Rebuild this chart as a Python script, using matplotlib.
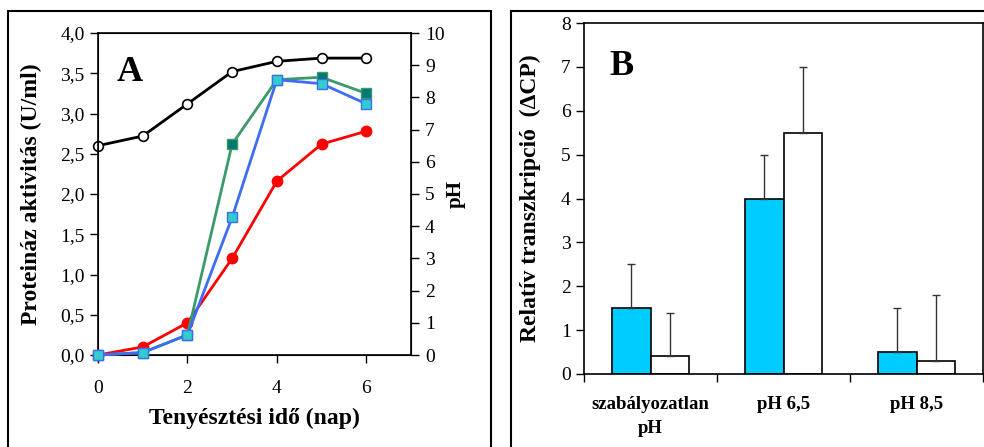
import numpy as np
import matplotlib.pyplot as plt
from matplotlib.patches import Rectangle

plt.rcParams['font.family'] = ['Liberation Serif', 'DejaVu Serif']

# panel A: protease activity (U/ml) and pH over culture time
days = [0, 1, 2, 3, 4, 5, 6]
act_green = [0.0, 0.03, 0.25, 2.62, 3.42, 3.45, 3.25]
act_blue = [0.0, 0.03, 0.25, 1.71, 3.42, 3.37, 3.12]
act_red = [0.0, 0.10, 0.40, 1.20, 2.16, 2.62, 2.78]
ph_vals = [6.5, 6.8, 7.8, 8.8, 9.12, 9.22, 9.22]

# panel B: relative transcription
cats = ['szabályozatlan\npH', 'pH 6,5', 'pH 8,5']
rel_cyan = [1.5, 4.0, 0.5]
rel_white = [0.4, 5.5, 0.3]
err_cyan = [1.0, 1.0, 1.0]
err_white = [1.0, 1.5, 1.5]

fig = plt.figure(figsize=(9.84, 4.47), dpi=100)

# frames round the two panels
fig.patches.append(Rectangle((8/984, -0.05), (491-8)/984, 1 - 11/447 + 0.05,
                             transform=fig.transFigure, fill=False, lw=1.5, ec='black'))
fig.patches.append(Rectangle((511/984, -0.05), 0.6, 1 - 11/447 + 0.05,
                             transform=fig.transFigure, fill=False, lw=1.5, ec='black'))

def comma(v, p):
    return ('%.1f' % v).replace('.', ',')

# ---------------- A ----------------
ax = fig.add_axes([98/984, 1-355/447, (411-98)/984, (355-33)/447])
ax2 = ax.twinx()
ax.set_zorder(ax2.get_zorder() + 1)
ax.patch.set_visible(False)

ax2.plot(days, ph_vals, color='black', lw=2, marker='o', ms=7,
         mfc='white', mec='black', mew=1.2, clip_on=False)
ax2.set_ylim(0, 10)
ax2.set_yticks(range(0, 11))
ax2.tick_params(axis='y', direction='out', length=6, width=1, labelsize=14, pad=4)
ax2.set_ylabel('pH', fontsize=15, fontweight='bold', labelpad=1)

ax.plot(days, act_red, color='#ff0000', lw=2, marker='o', ms=7.5, mfc='#ff0000',
        mec='#ff0000', clip_on=False, zorder=3)
ax.plot(days, act_green, color='#3a9a6a', lw=2, marker='s', ms=7,
        mfc='#007a6e', mec='#3a9a6a', clip_on=False, zorder=4)
ax.plot(days, act_blue, color='#3d6df5', lw=2, marker='s', ms=7,
        mfc='#33cccc', mec='#3d6df5', clip_on=False, zorder=5)
ax.set_xlim(0, 7)
ax.set_ylim(0, 4)
ax.set_xticks([0, 2, 4, 6])
ax.set_yticks(np.arange(0, 4.01, 0.5))
ax.yaxis.set_major_formatter(plt.FuncFormatter(comma))
ax.tick_params(axis='y', direction='out', length=6, width=1, labelsize=14)
ax.tick_params(axis='x', direction='out', length=6, width=1, labelsize=14, pad=12)
ax.set_xlabel('Tenyésztési idő (nap)', fontsize=17, fontweight='bold', labelpad=8)
ax.set_ylabel('Proteináz aktivitás (U/ml)', fontsize=17, fontweight='bold', labelpad=13)
ax.text(0.06, 0.93, 'A', transform=ax.transAxes, fontsize=26, fontweight='bold',
        va='top', ha='left')
for s in ax.spines.values():
    s.set_linewidth(1.2)

# ---------------- B ----------------
bx = fig.add_axes([584/984, 1-374/447, (983-584)/984, (374-23)/447])
x = np.arange(len(cats)) + 0.5
w = 0.29
bx.bar(x - w/2, rel_cyan, w, color='#00ccff', edgecolor='black', lw=1.2,
       yerr=[np.zeros(3), err_cyan], error_kw=dict(ecolor='#333333', elinewidth=1,
                                                     capsize=3, capthick=1), zorder=2)
bx.bar(x + w/2, rel_white, w, color='white', edgecolor='black', lw=1.2,
       yerr=[np.zeros(3), err_white], error_kw=dict(ecolor='#333333', elinewidth=1,
                                                      capsize=3, capthick=1), zorder=2)
bx.set_xlim(0, 3)
bx.set_ylim(0, 8)
bx.set_yticks(range(0, 9))
bx.set_xticks([0, 1, 2, 3], minor=True)
bx.set_xticks(x)
bx.set_xticklabels(cats, fontsize=13.5, fontweight='bold', linespacing=1.5)
bx.tick_params(axis='x', which='major', length=0, pad=16)
bx.tick_params(axis='x', which='minor', direction='out', length=6, width=1)
bx.tick_params(axis='y', direction='out', length=6, width=1, labelsize=14)
bx.set_ylabel('Relatív transzkripció  (ΔCP)', fontsize=17, fontweight='bold', labelpad=14)
bx.text(0.095, 0.923, 'B', transform=bx.transAxes, fontsize=26, fontweight='bold',
        va='top', ha='center')
for s in bx.spines.values():
    s.set_linewidth(1.2)

plt.savefig('out.png', dpi=100)
